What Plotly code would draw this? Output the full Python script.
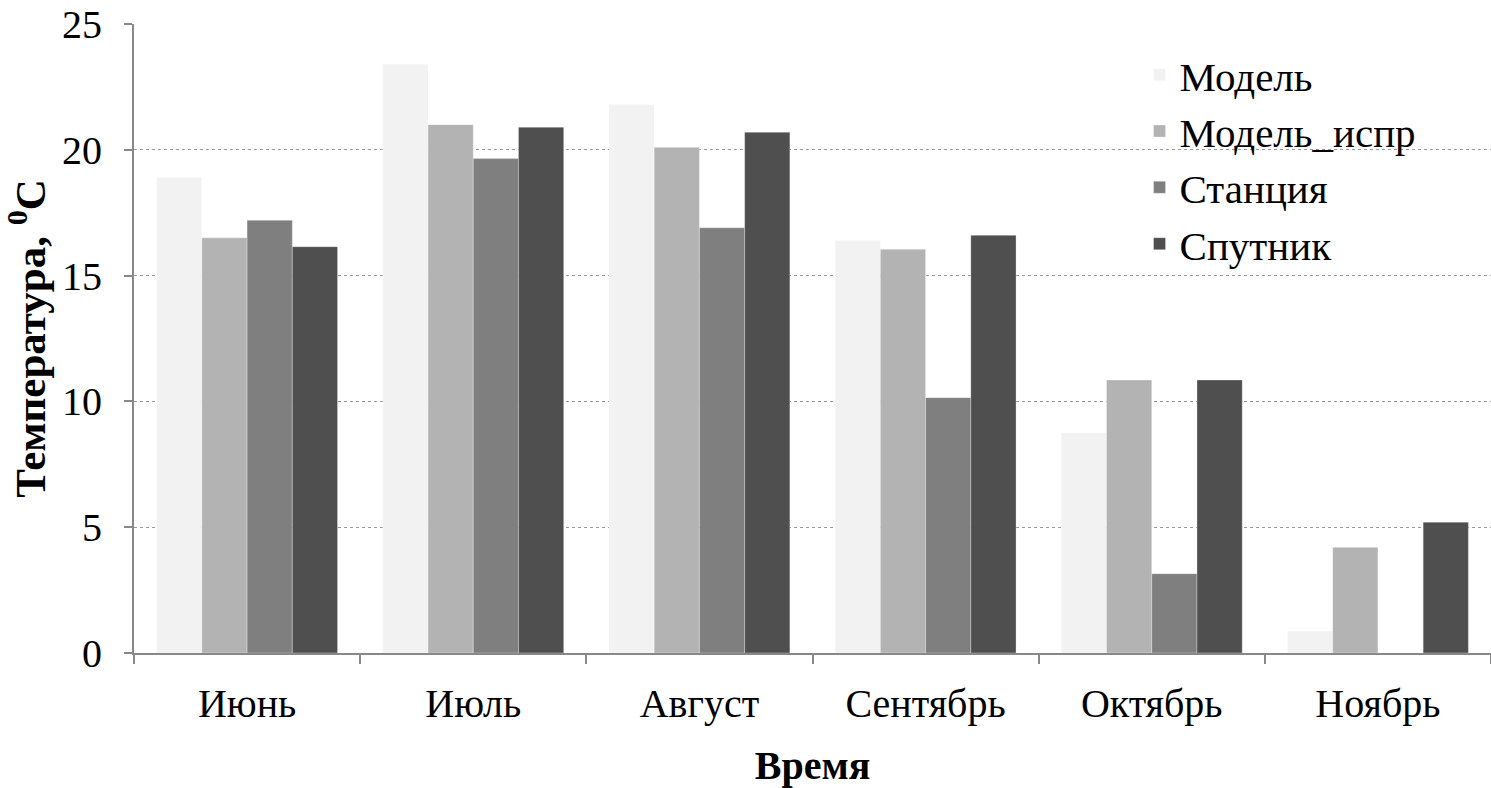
import plotly.graph_objects as go

months = ["Июнь", "Июль", "Август", "Сентябрь", "Октябрь", "Ноябрь"]
model = [18.9, 23.4, 21.8, 16.4, 8.75, 0.87]
model_corr = [16.5, 21.0, 20.1, 16.05, 10.85, 4.2]
station = [17.2, 19.65, 16.9, 10.15, 3.15, None]
satellite = [16.15, 20.9, 20.7, 16.6, 10.85, 5.2]

series = [
    ("Модель", model, "#f2f2f2"),
    ("Модель_испр", model_corr, "#b3b3b3"),
    ("Станция", station, "#7f7f7f"),
    ("Спутник", satellite, "#4f4f4f"),
]

font_family = "Liberation Serif, Times New Roman, serif"

fig = go.Figure()
for name, vals, color in series:
    fig.add_trace(go.Bar(
        x=months, y=vals, name=name,
        marker=dict(color=color, line=dict(color="rgba(255,255,255,0.6)", width=0.5)),
    ))

fig.update_layout(
    width=1491, height=788,
    margin=dict(l=134, r=0, t=24, b=135),
    plot_bgcolor="white", paper_bgcolor="white",
    barmode="group", bargap=0.2, bargroupgap=0,
    font=dict(family=font_family, color="black", size=40),
    showlegend=True,
    legend=dict(
        x=0.741, y=0.972, xanchor="left", yanchor="top",
        font=dict(size=41, family=font_family, color="black"),
        bgcolor="rgba(0,0,0,0)", tracegroupgap=0,
    ),
)

fig.update_xaxes(
    type="category",
    showline=True, linecolor="#888888", linewidth=2,
    ticks="outside", tickson="boundaries", ticklen=9, tickcolor="#888888", tickwidth=2,
    showgrid=False,
    tickfont=dict(size=40, family=font_family, color="black"),
    ticklabelstandoff=14,
    title=dict(text="<b>Время</b>", font=dict(size=40, family=font_family, color="black"), standoff=30),
)

fig.update_yaxes(
    range=[0, 25], tickvals=[0, 5, 10, 15, 20, 25],
    showline=True, linecolor="#888888", linewidth=2,
    ticks="outside", ticklen=8, tickcolor="#888888", tickwidth=2,
    showgrid=True, gridcolor="#999999", griddash="dot", gridwidth=1,
    zeroline=False,
    tickfont=dict(size=40, family=font_family, color="black"),
    ticklabelstandoff=14,
    title=dict(text="<b>Температура, <sup>0</sup>C</b>", font=dict(size=43, family=font_family, color="black"), standoff=12),
)

fig.write_html("out.html")
